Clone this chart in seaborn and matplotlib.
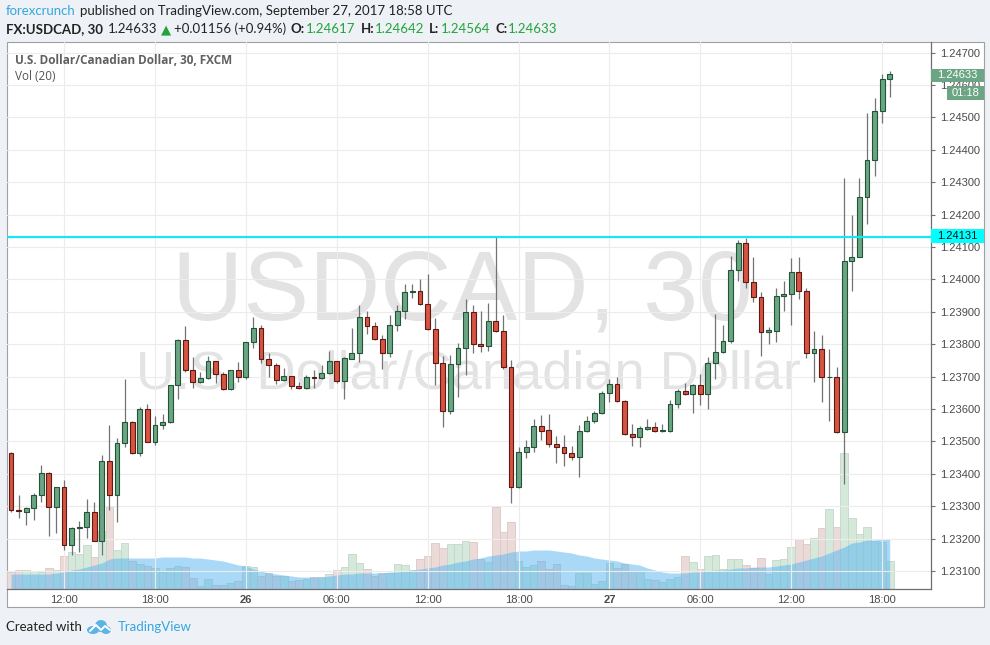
import numpy as np
import pandas as pd
import matplotlib
matplotlib.use("Agg")
import matplotlib.pyplot as plt
from matplotlib.patches import Rectangle, Ellipse
import seaborn as sns

# 30 minute candles, 25 Sep 08:30 -> 27 Sep 18:30
opens = [1.23463, 1.23288, 1.23283, 1.23294, 1.23334, 1.23402, 1.23297, 1.23358, 1.23179, 1.23232,
         1.23235, 1.23281, 1.23194, 1.23439, 1.23334, 1.23494, 1.23561, 1.23463, 1.23599, 1.23497,
         1.23550, 1.23559, 1.23673, 1.23813, 1.23720, 1.23682, 1.23695, 1.23747, 1.23707, 1.23661,
         1.23719, 1.23698, 1.23806, 1.23849, 1.23753, 1.23735, 1.23689, 1.23701, 1.23670, 1.23664,
         1.23698, 1.23697, 1.23710, 1.23747, 1.23687, 1.23755, 1.23772, 1.23885, 1.23855, 1.23815,
         1.23772, 1.23858, 1.23901, 1.23962, 1.23963, 1.23924, 1.23846, 1.23743, 1.23595, 1.23738,
         1.23787, 1.23898, 1.23800, 1.23793, 1.23872, 1.23840, 1.23729, 1.23358, 1.23466, 1.23484,
         1.23547, 1.23535, 1.23491, 1.23482, 1.23463, 1.23453, 1.23532, 1.23563, 1.23587, 1.23648,
         1.23677, 1.23625, 1.23522, 1.23514, 1.23538, 1.23544, 1.23531, 1.23532, 1.23615, 1.23656,
         1.23645, 1.23674, 1.23645, 1.23741, 1.23777, 1.23811, 1.24029, 1.24111, 1.23991, 1.23945,
         1.23837, 1.23842, 1.23948, 1.23954, 1.24022, 1.23964, 1.23772, 1.23784, 1.23698, 1.23698,
         1.23528, 1.24056, 1.24070, 1.24253, 1.24368, 1.24520, 1.24617]
highs = [1.23468, 1.23335, 1.23298, 1.23341, 1.23427, 1.23404, 1.23360, 1.23381, 1.23237, 1.23254,
         1.23322, 1.23312, 1.23458, 1.23551, 1.23510, 1.23693, 1.23563, 1.23607, 1.23615, 1.23578,
         1.23584, 1.23675, 1.23815, 1.23856, 1.23759, 1.23713, 1.23763, 1.23749, 1.23713, 1.23721,
         1.23745, 1.23808, 1.23883, 1.23859, 1.23772, 1.23743, 1.23726, 1.23703, 1.23682, 1.23705,
         1.23720, 1.23735, 1.23779, 1.23749, 1.23759, 1.23849, 1.23921, 1.23903, 1.23867, 1.23828,
         1.23890, 1.23920, 1.23986, 1.23986, 1.24001, 1.24017, 1.23880, 1.23763, 1.23767, 1.23805,
         1.23939, 1.23921, 1.23902, 1.23928, 1.24131, 1.23890, 1.23751, 1.23484, 1.23504, 1.23569,
         1.23581, 1.23584, 1.23517, 1.23520, 1.23486, 1.23551, 1.23578, 1.23595, 1.23656, 1.23692,
         1.23700, 1.23627, 1.23554, 1.23547, 1.23569, 1.23560, 1.23554, 1.23628, 1.23662, 1.23681,
         1.23676, 1.23708, 1.23761, 1.23892, 1.23859, 1.24072, 1.24121, 1.24127, 1.24068, 1.23962,
         1.23854, 1.23972, 1.23996, 1.24065, 1.24068, 1.23974, 1.23841, 1.23828, 1.23785, 1.23730,
         1.24312, 1.24199, 1.24312, 1.24514, 1.24559, 1.24634, 1.24642]
lows = [1.23281, 1.23263, 1.23242, 1.23257, 1.23314, 1.23208, 1.23216, 1.23165, 1.23149, 1.23160,
        1.23201, 1.23192, 1.23149, 1.23288, 1.23250, 1.23482, 1.23461, 1.23456, 1.23497, 1.23489,
        1.23537, 1.23557, 1.23630, 1.23715, 1.23666, 1.23680, 1.23693, 1.23681, 1.23659, 1.23659,
        1.23682, 1.23692, 1.23789, 1.23741, 1.23698, 1.23676, 1.23687, 1.23661, 1.23661, 1.23662,
        1.23664, 1.23692, 1.23708, 1.23679, 1.23630, 1.23753, 1.23746, 1.23831, 1.23813, 1.23722,
        1.23759, 1.23842, 1.23877, 1.23942, 1.23922, 1.23844, 1.23674, 1.23545, 1.23584, 1.23636,
        1.23705, 1.23774, 1.23777, 1.23780, 1.23838, 1.23722, 1.23309, 1.23356, 1.23448, 1.23466,
        1.23504, 1.23482, 1.23432, 1.23425, 1.23443, 1.23391, 1.23530, 1.23558, 1.23585, 1.23622,
        1.23623, 1.23520, 1.23487, 1.23484, 1.23536, 1.23529, 1.23529, 1.23530, 1.23602, 1.23643,
        1.23587, 1.23611, 1.23601, 1.23692, 1.23774, 1.23805, 1.23996, 1.23972, 1.23931, 1.23764,
        1.23800, 1.23808, 1.23903, 1.23859, 1.23939, 1.23756, 1.23684, 1.23622, 1.23564, 1.23526,
        1.23368, 1.23965, 1.24068, 1.24171, 1.24320, 1.24483, 1.24564]
closes = [1.23288, 1.23284, 1.23294, 1.23334, 1.23402, 1.23297, 1.23358, 1.23179, 1.23232, 1.23237,
          1.23281, 1.23194, 1.23439, 1.23334, 1.23494, 1.23561, 1.23463, 1.23599, 1.23497, 1.23551,
          1.23559, 1.23673, 1.23813, 1.23720, 1.23682, 1.23695, 1.23747, 1.23707, 1.23661, 1.23719,
          1.23698, 1.23806, 1.23849, 1.23753, 1.23735, 1.23689, 1.23701, 1.23670, 1.23664, 1.23698,
          1.23696, 1.23710, 1.23747, 1.23687, 1.23756, 1.23772, 1.23885, 1.23855, 1.23815, 1.23772,
          1.23858, 1.23901, 1.23962, 1.23963, 1.23924, 1.23846, 1.23743, 1.23595, 1.23738, 1.23787,
          1.23898, 1.23800, 1.23793, 1.23872, 1.23840, 1.23729, 1.23358, 1.23466, 1.23484, 1.23547,
          1.23533, 1.23491, 1.23482, 1.23463, 1.23453, 1.23532, 1.23563, 1.23587, 1.23648, 1.23676,
          1.23625, 1.23522, 1.23514, 1.23540, 1.23544, 1.23531, 1.23535, 1.23615, 1.23656, 1.23645,
          1.23674, 1.23645, 1.23741, 1.23777, 1.23811, 1.24029, 1.24111, 1.23991, 1.23945, 1.23837,
          1.23844, 1.23948, 1.23954, 1.24022, 1.23964, 1.23772, 1.23784, 1.23698, 1.23699, 1.23528,
          1.24056, 1.24070, 1.24253, 1.24368, 1.24520, 1.24617, 1.24633]
volume = [17, 19, 19, 18, 17, 21, 19, 33, 37, 35, 44, 32, 58, 83, 39, 46, 28, 25, 23, 21,
          17, 21, 23, 22, 11, 3, 10, 4, 4, 6, 8, 23, 22, 13, 16, 13, 13, 8, 9, 10,
          12, 12, 15, 19, 22, 35, 26, 20, 13, 16, 16, 25, 24, 19, 30, 33, 46, 41, 45, 45,
          48, 47, 30, 27, 82, 57, 67, 28, 22, 24, 28, 20, 25, 4, 3, 16, 16, 5, 8, 26,
          21, 25, 18, 18, 10, 9, 7, 10, 12, 33, 27, 20, 33, 34, 20, 30, 30, 24, 21, 31,
          15, 29, 30, 42, 50, 45, 51, 61, 80, 62, 136, 71, 55, 62, 48, 47, 28]
vol_ma = [15, 15, 15, 15, 15, 15, 16, 17, 19, 20, 22, 24, 26, 30, 31, 31, 31, 31, 31, 31,
          32, 32, 32, 32, 31, 31, 30, 29, 28, 26, 24, 23, 20, 18, 16, 15, 14, 13, 12, 12,
          12, 12, 13, 14, 15, 15, 16, 16, 16, 16, 17, 17, 18, 19, 20, 21, 22, 24, 25, 27,
          28, 30, 31, 33, 34, 35, 37, 38, 38, 39, 39, 39, 38, 37, 36, 34, 33, 31, 30, 29,
          28, 26, 25, 24, 21, 19, 17, 16, 16, 16, 17, 17, 18, 19, 19, 20, 21, 21, 22, 22,
          22, 23, 24, 25, 27, 29, 31, 33, 36, 39, 42, 46, 47, 49, 49, 50, 50]

tick_pos = [7, 19, 31, 43, 55, 67, 79, 91, 103, 115]
tick_lbl = ["12:00", "18:00", "26", "06:00", "12:00", "18:00", "27", "06:00", "12:00", "18:00"]
price_ticks = [1.231, 1.232, 1.233, 1.234, 1.235, 1.236, 1.237, 1.238,
               1.239, 1.240, 1.241, 1.242, 1.243, 1.244, 1.245, 1.246, 1.247]
level = 1.24131

UP, DOWN = "#6ba583", "#d75442"
GREY = "#4a4a4a"
BLUE = "#35a7e0"

sns.set_style("white")
plt.rcParams["font.family"] = ["Liberation Sans", "DejaVu Sans"]

W, H = 990, 645
fig = plt.figure(figsize=(W / 100, H / 100), dpi=100, facecolor="#eef1f5")


def fx(x):
    return x / W


def fy(y):
    return 1 - y / H


def box(x0, y0, x1, y1, **kw):
    r = Rectangle((fx(x0), fy(y1)), (x1 - x0) / W, (y1 - y0) / H,
                  transform=fig.transFigure, **kw)
    fig.add_artist(r)
    return r


# white chart panel
box(7, 42, 984, 607, facecolor="white", edgecolor="#a0a0a0", lw=0.8, zorder=0)

pos = [fx(7), fy(589), (931 - 7) / W, (589 - 42) / H]
axv = fig.add_axes(pos, zorder=1)
ax = fig.add_axes(pos, zorder=2)
axv.patch.set_alpha(0)
ax.patch.set_alpha(0)

o = np.array(opens)
h = np.array(highs)
l = np.array(lows)
c = np.array(closes)
idx = np.arange(len(o))
up = c >= o

# volume + 20-period average
df = pd.DataFrame({"bar": idx, "volume": volume,
                   "side": np.where(up, "up", "down")})
sns.barplot(data=df, x="bar", y="volume", hue="side",
            palette={"up": "#d5e9db", "down": "#ecdad8"}, saturation=1,
            native_scale=True, width=1.0, dodge=False, errorbar=None,
            legend=False, ax=axv)
for p in axv.patches:
    fc = p.get_facecolor()
    p.set_edgecolor(tuple(v * 0.92 for v in fc[:3]) + (1,))
    p.set_linewidth(0.6)
axv.fill_between(idx, 0, vol_ma, color="#55b5f1", alpha=0.5, lw=0, zorder=5)
axv.set_xlim(-0.53, 121.45)
axv.set_ylim(0, 547)
axv.axis("off")

# candles
ax.vlines(idx, l, h, color="#737375", lw=0.9, zorder=3)
body_lo = np.minimum(o, c)
body_h = np.maximum(np.abs(c - o), 0.00002)
ax.bar(idx[up], body_h[up], bottom=body_lo[up], width=0.64,
       color=UP, edgecolor="#225437", lw=0.8, zorder=4)
ax.bar(idx[~up], body_h[~up], bottom=body_lo[~up], width=0.64,
       color=DOWN, edgecolor="#5b1a13", lw=0.8, zorder=4)
ax.axhline(level, color="#17e6f5", lw=1.6, zorder=5)

ax.set_xlim(-0.53, 121.45)
ax.set_ylim(1.230444, 1.247327)
ax.set_yticks(price_ticks)
ax.set_yticklabels([f"{v:.5f}" for v in price_ticks])
ax.set_xticks(tick_pos)
ax.set_xticklabels(tick_lbl)
for t in ax.get_xticklabels():
    if t.get_text() in ("26", "27"):
        t.set_fontweight("bold")
ax.yaxis.tick_right()
ax.grid(True, color="#ececec", lw=0.8, zorder=0)
ax.set_axisbelow(True)
for s in ("top", "left"):
    ax.spines[s].set_visible(False)
for s in ("bottom", "right"):
    ax.spines[s].set_color("#6e6e6e")
    ax.spines[s].set_linewidth(0.9)
ax.tick_params(axis="y", direction="out", length=3, width=0.8, color="#6e6e6e",
               pad=3.5, labelsize=8, labelcolor=GREY)
ax.tick_params(axis="x", length=0, pad=4, labelsize=8, labelcolor=GREY)

# watermark
fig.text(fx(462), fy(320), "USDCAD, 30", ha="center", va="baseline",
         fontsize=71, color="#e3e3e3", zorder=0.5)
fig.text(fx(469), fy(388), "U.S. Dollar/Canadian Dollar", ha="center", va="baseline",
         fontsize=39, color="#e3e3e3", zorder=0.5)

# legend texts inside the pane
fig.text(fx(15), fy(61), "U.S. Dollar/Canadian Dollar, 30, FXCM", ha="left", va="center",
         fontsize=8.5, color="#606060", fontweight="bold",
         family=["Open Sans", "DejaVu Sans"], zorder=6)
fig.text(fx(15), fy(77), "Vol (20)", ha="left", va="center",
         fontsize=8.5, color="#555555", family=["Open Sans", "DejaVu Sans"], zorder=6)

# price labels on the right scale
box(931, 69, 984, 82, facecolor=UP, edgecolor="none", zorder=6)
fig.text(fx(957.5), fy(75.5), "1.24633", ha="center", va="center", fontsize=8,
         color="white", zorder=7)
box(947, 86.5, 984, 99.5, facecolor=UP, edgecolor="none", zorder=6)
fig.text(fx(965.5), fy(93), "01:18", ha="center", va="center", fontsize=8,
         color="white", zorder=7)
box(931, 229, 984, 243, facecolor="#00ffff", edgecolor="none", zorder=6)
fig.text(fx(957.5), fy(236), "1.24131", ha="center", va="center", fontsize=8,
         color="#111111", zorder=7)

# header and footer text runs
renderer = fig.canvas.get_renderer()
HFONT = ["Lato", "DejaVu Sans"]


def runs(x, y, parts, size):
    for text, color, weight, gap in parts:
        t = fig.text(fx(x), fy(y), text, ha="left", va="center", fontsize=size,
                     color=color, fontweight=weight, family=HFONT)
        x += t.get_window_extent(renderer).width + gap


DARK = "#222222"
GREEN = "#21a53a"
runs(6, 11, [("forexcrunch", BLUE, "normal", 4),
             ("published on TradingView.com, September 27, 2017 18:58 UTC", DARK, "normal", 0)], 9.5)
runs(6, 29, [("FX:USDCAD, 30", DARK, "bold", 5), ("1.24633", DARK, "normal", 3),
             ("\u25b2", GREEN, "normal", 3), ("+0.01156 (+0.94%)", DARK, "normal", 5),
             ("O:", DARK, "bold", 1), ("1.24617", GREEN, "normal", 5),
             ("H:", DARK, "bold", 1), ("1.24642", GREEN, "normal", 5),
             ("L:", DARK, "bold", 1), ("1.24564", GREEN, "normal", 5),
             ("C:", DARK, "bold", 1), ("1.24633", GREEN, "normal", 0)], 9.5)
runs(6, 627, [("Created with", DARK, "normal", 0)], 9.5)
runs(118, 627, [("TradingView", BLUE, "normal", 0)], 9.5)

# TradingView logo (cloud with a zigzag)
for cx, cy, ew, eh in [(93, 630, 12, 8), (101, 626, 12, 12), (106, 630, 10, 8)]:
    fig.add_artist(Ellipse((fx(cx), fy(cy)), ew / W, eh / H, transform=fig.transFigure,
                           facecolor="#5ab4e6", edgecolor="none"))
fig.add_artist(plt.Line2D([fx(90), fx(96), fx(101), fx(105), fx(110)],
                          [fy(631), fy(625), fy(630), fy(626), fy(630)],
                          transform=fig.transFigure, color="white", lw=1.4))

fig.savefig("out.png", dpi=100, facecolor=fig.get_facecolor())
